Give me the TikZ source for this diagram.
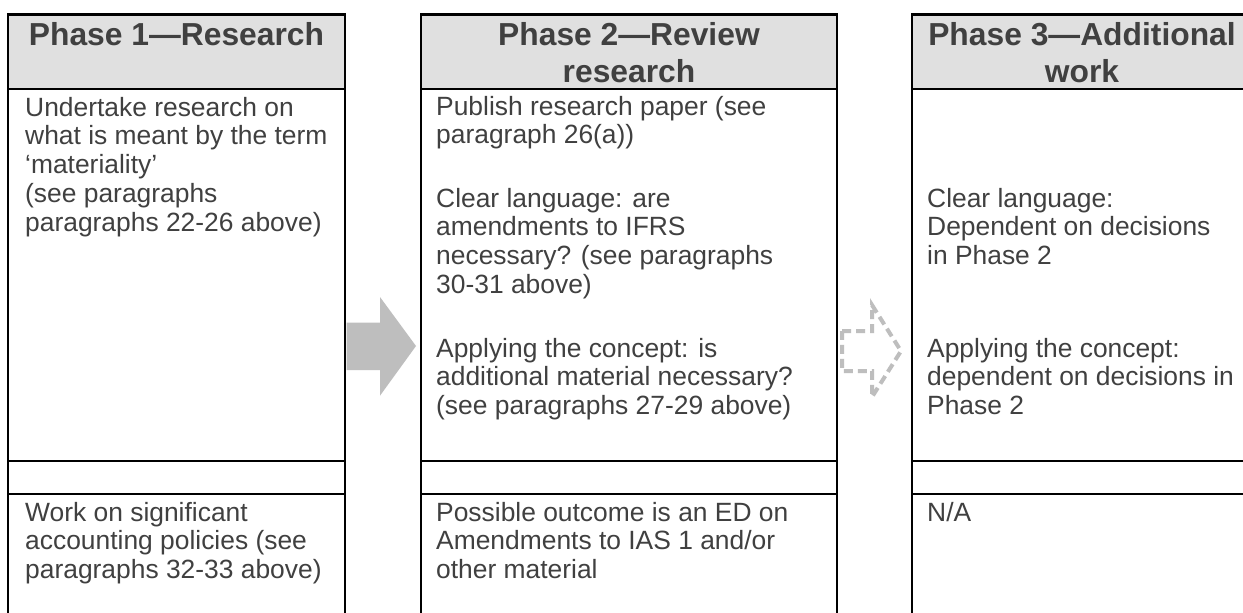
\documentclass[tikz,border=0pt]{standalone}
\usepackage{fontspec}
\setmainfont{Liberation Sans}
\definecolor{txt}{HTML}{404040}
\definecolor{hdrfill}{HTML}{E0E0E0}
\definecolor{arrowgray}{HTML}{BEBEBE}
\begin{document}
\begin{tikzpicture}[x=1pt,y=-1pt,
  hdrbox/.style={fill=hdrfill,draw=black,line width=2.6pt},
  gridline/.style={draw=black,line width=2.6pt},
  hdrtext/.style={inner sep=0pt,anchor=base,align=center,text=txt,font=\fontsize{31.8}{37}\selectfont\bfseries},
  bodytext/.style={inner sep=0pt,anchor=base west,align=left,text=txt,font=\fontsize{26.4}{28.8}\selectfont},
  solidarrow/.style={fill=arrowgray,draw=none},
  dasharrow/.style={draw=arrowgray,line width=4pt,dash pattern=on 9pt off 5pt}]
\useasboundingbox (0,0) rectangle (1243,613);
\clip (0,0) rectangle (1243,613);
\fill[white] (0,0) rectangle (1243,613);
% header boxes
\path[hdrbox] (8,14.7) rectangle (345,89);
\path[hdrbox] (421,14.7) rectangle (837,89);
\path[hdrbox] (912,14.7) rectangle (1252,89);
% column borders
\foreach \xl/\xr in {8/345,421/837,912/1252}{
  \draw[gridline] (\xl,89) -- (\xl,620);
  \draw[gridline] (\xr,89) -- (\xr,620);
  \draw[gridline] (\xl,461) -- (\xr,461);
  \draw[gridline] (\xl,494) -- (\xr,494);
}
% header texts (anchor = baseline of the last line)
\node[hdrtext] (h1) at (176.5,45.5) {Phase 1—Research};
\node[hdrtext] (h2) at (629,82.5) {Phase 2—Review\\research};
\node[hdrtext] (h3) at (1082,82.5) {Phase 3—Additional\\work};
% column 1
\node[bodytext] (c1a) at (25,231.2) {Undertake research on\\what is meant by the term\\‘materiality’\\(see paragraphs\\paragraphs 22-26 above)};
\node[bodytext] (c1b) at (25,578.6) {Work on significant\\accounting policies (see\\paragraphs 32-33 above)};
% column 2
\node[bodytext] (c2a) at (436,143.8) {Publish research paper (see\\paragraph 26(a))};
\node[bodytext] (c2b) at (436,293.4) {Clear language: are\\amendments to IFRS\\necessary? (see paragraphs\\30-31 above)};
\node[bodytext] (c2c) at (436,414.6) {Applying the concept: is\\additional material necessary?\\(see paragraphs 27-29 above)};
\node[bodytext] (c2d) at (436,578.6) {Possible outcome is an ED on\\Amendments to IAS 1 and/or\\other material};
% column 3
\node[bodytext] (c3a) at (927,264.6) {Clear language:\\Dependent on decisions\\in Phase 2};
\node[bodytext] (c3b) at (927,414.6) {Applying the concept:\\dependent on decisions in\\Phase 2};
\node[bodytext] (c3c) at (927,521) {N/A};
% arrows
\path[solidarrow] (346.7,322.7) -- (380,322.7) -- (380,297) -- (416,346) -- (380,395.7) -- (380,370) -- (346.7,370) -- cycle;
\path[dasharrow] (842,331) -- (872,331) -- (872,305) -- (901,351) -- (872,397) -- (872,371) -- (842,371) -- cycle;
\end{tikzpicture}
\end{document}
